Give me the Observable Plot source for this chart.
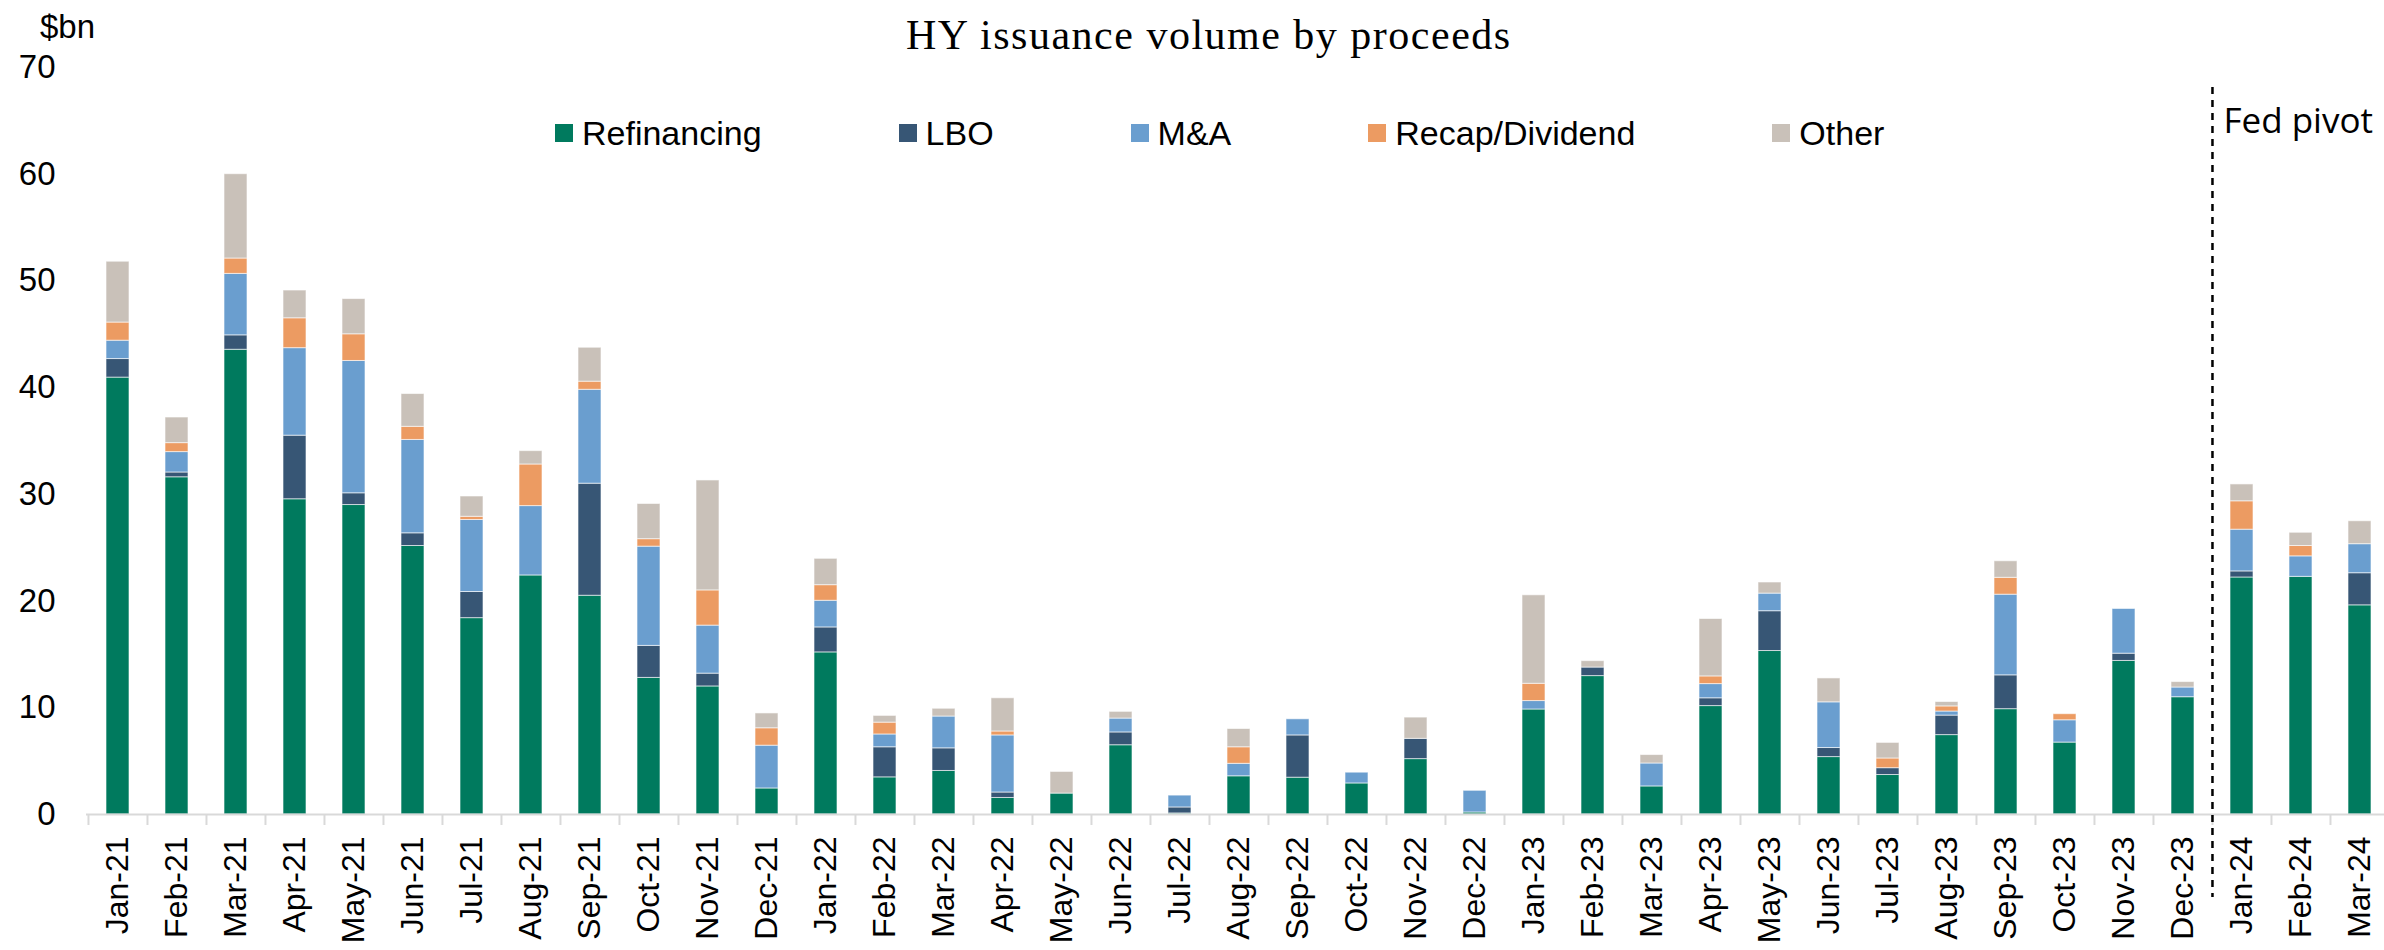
<!DOCTYPE html>
<html><head><meta charset="utf-8">
<script src="https://cdn.jsdelivr.net/npm/d3@7"></script>
<script src="https://cdn.jsdelivr.net/npm/@observablehq/plot@0.6"></script>
<style>
html,body{margin:0;padding:0;background:#fff;}
#wrap{position:relative;width:2384px;height:950px;overflow:hidden;background:#fff;}
#wrap svg{position:absolute;left:0;top:0;z-index:0;}
#title,#unit,#legend{z-index:2;}
#title{position:absolute;left:906px;top:14px;font-family:"Liberation Serif","Times New Roman",serif;font-size:42px;line-height:42px;letter-spacing:1.5px;color:#000;white-space:nowrap;}
#unit{position:absolute;left:40px;top:10px;font-family:"Liberation Sans",Arial,sans-serif;font-size:33px;line-height:33px;color:#000;}
#legend{position:absolute;left:555px;top:116px;display:flex;font-family:"Liberation Sans",Arial,sans-serif;font-size:34px;line-height:34px;color:#000;white-space:nowrap;}
.item{display:flex;align-items:center;margin-right:137px;}
.sw{width:18px;height:18px;margin-right:9px;}
</style>
</head><body>
<div id="wrap">
  <div id="title">HY issuance volume by proceeds</div>
  <div id="unit">$bn</div>
  <div id="legend"></div>
</div>
<script>
const months = ["Jan-21","Feb-21","Mar-21","Apr-21","May-21","Jun-21","Jul-21","Aug-21","Sep-21","Oct-21","Nov-21","Dec-21",
  "Jan-22","Feb-22","Mar-22","Apr-22","May-22","Jun-22","Jul-22","Aug-22","Sep-22","Oct-22","Nov-22","Dec-22",
  "Jan-23","Feb-23","Mar-23","Apr-23","May-23","Jun-23","Jul-23","Aug-23","Sep-23","Oct-23","Nov-23","Dec-23",
  "Jan-24","Feb-24","Mar-24"];
const refinancing = [40.94,31.6,43.55,29.54,29.0,25.16,18.4,22.4,20.5,12.8,12.0,2.44,
  15.19,3.48,4.08,1.55,1.96,6.49,0.1,3.58,3.45,2.91,5.19,0.19,
  9.84,12.97,2.63,10.16,15.32,5.38,3.70,7.44,9.87,6.74,14.39,10.99,
  22.21,22.27,19.60];
const lbo = [1.74,0.45,1.35,5.96,1.1,1.19,2.45,0,10.5,3.0,1.2,0,
  2.34,2.82,2.12,0.51,0,1.2,0.56,0,3.96,0,1.9,0,
  0,0.8,0,0.73,3.73,0.85,0.64,1.83,3.17,0,0.68,0,
  0.57,0,3.01];
const ma = [1.72,1.91,5.76,8.2,12.4,8.75,6.75,6.5,8.8,9.3,4.5,4.01,
  2.5,1.2,2.98,5.35,0,1.3,1.11,1.17,1.51,1.01,0,2.03,
  0.79,0,2.15,1.33,1.65,4.28,0,0.38,7.56,2.09,4.19,0.91,
  3.91,1.92,2.72];
const recap = [1.7,0.84,1.44,2.8,2.5,1.23,0.3,3.9,0.76,0.7,3.3,1.63,
  1.46,1.11,0,0.37,0,0,0,1.55,0,0,0,0,
  1.62,0,0,0.72,0,0,0.91,0.48,1.58,0.57,0,0,
  2.66,0.97,0];
const other = [5.7,2.4,7.9,2.6,3.3,3.07,1.9,1.25,3.18,3.3,10.3,1.39,
  2.47,0.63,0.73,3.11,2.03,0.63,0,1.71,0,0,1.99,0,
  8.29,0.6,0.79,5.38,1.04,2.24,1.46,0.41,1.55,0,0,0.51,
  1.58,1.24,2.15];
const series = ["Refinancing","LBO","M&A","Recap/Dividend","Other"];
const colors = ["#007a5e","#375675","#6a9ecf","#ec9b62","#c9c1b9"];
const yTicks = [0,10,20,30,40,50,60,70];
const pivotMonth = "Jan-24";
const pivotLabel = "Fed pivot";

const values = [refinancing, lbo, ma, recap, other];
const data = [];
series.forEach((s, i) => months.forEach((m, j) => {
  if (values[i][j] > 0) data.push({month: m, series: s, value: values[i][j]});
}));

const W = 2384, H = 950;
const xRange = [86.3, 2390];
const step = (xRange[1] - xRange[0]) / months.length;

const chart = Plot.plot({
  width: W, height: H,
  marginTop: 67, marginBottom: 136, marginLeft: 86, marginRight: 0,
  style: {fontFamily: "'Liberation Sans', Arial, sans-serif", background: "#fff", color: "#000"},
  x: {type: "band", domain: months, range: xRange, paddingInner: 0.61, paddingOuter: 0.305, align: 0.5},
  y: {domain: [0, 70], ticks: yTicks},
  color: {domain: series, range: colors},
  marks: [
    Plot.barY(data, {x: "month", y: "value", fill: "series", stroke: "#fff", strokeWidth: 1, strokeOpacity: 0.6}),
    Plot.ruleY([0], {stroke: "#d9d9d9", strokeWidth: 2}),
    Plot.axisX({tickSize: 11, dx: -step / 2, tickFormat: () => "", label: null, stroke: "#d9d9d9", strokeWidth: 2}),
    Plot.axisX({tickSize: 0, tickRotate: -90, tickPadding: 22, fontSize: 32, fill: "#000", label: null}),
    Plot.axisY({ticks: yTicks, tickSize: 0, tickPadding: 31, fontSize: 33, fill: "#000", label: null}),
    Plot.ruleX([pivotMonth], {x: d => d, dx: -step / 2, stroke: "#000", strokeWidth: 2.5, strokeDasharray: "7,6", insetTop: 20, insetBottom: -83}),
    Plot.text([pivotLabel], {x: () => pivotMonth, frameAnchor: "top", dx: -step / 2 + 11, dy: 41, text: d => d,
      textAnchor: "start", fontSize: 35, fontFamily: "'Open Sans', sans-serif", fill: "#000"})
  ]
});
const wrap = document.getElementById("wrap");
wrap.insertBefore(chart, wrap.firstChild);

const legend = document.getElementById("legend");
series.forEach((s, i) => {
  const item = document.createElement("div");
  item.className = "item";
  const sw = document.createElement("span");
  sw.className = "sw";
  sw.style.background = colors[i];
  const label = document.createElement("span");
  label.textContent = s;
  item.appendChild(sw);
  item.appendChild(label);
  legend.appendChild(item);
});
</script>
</body></html>
